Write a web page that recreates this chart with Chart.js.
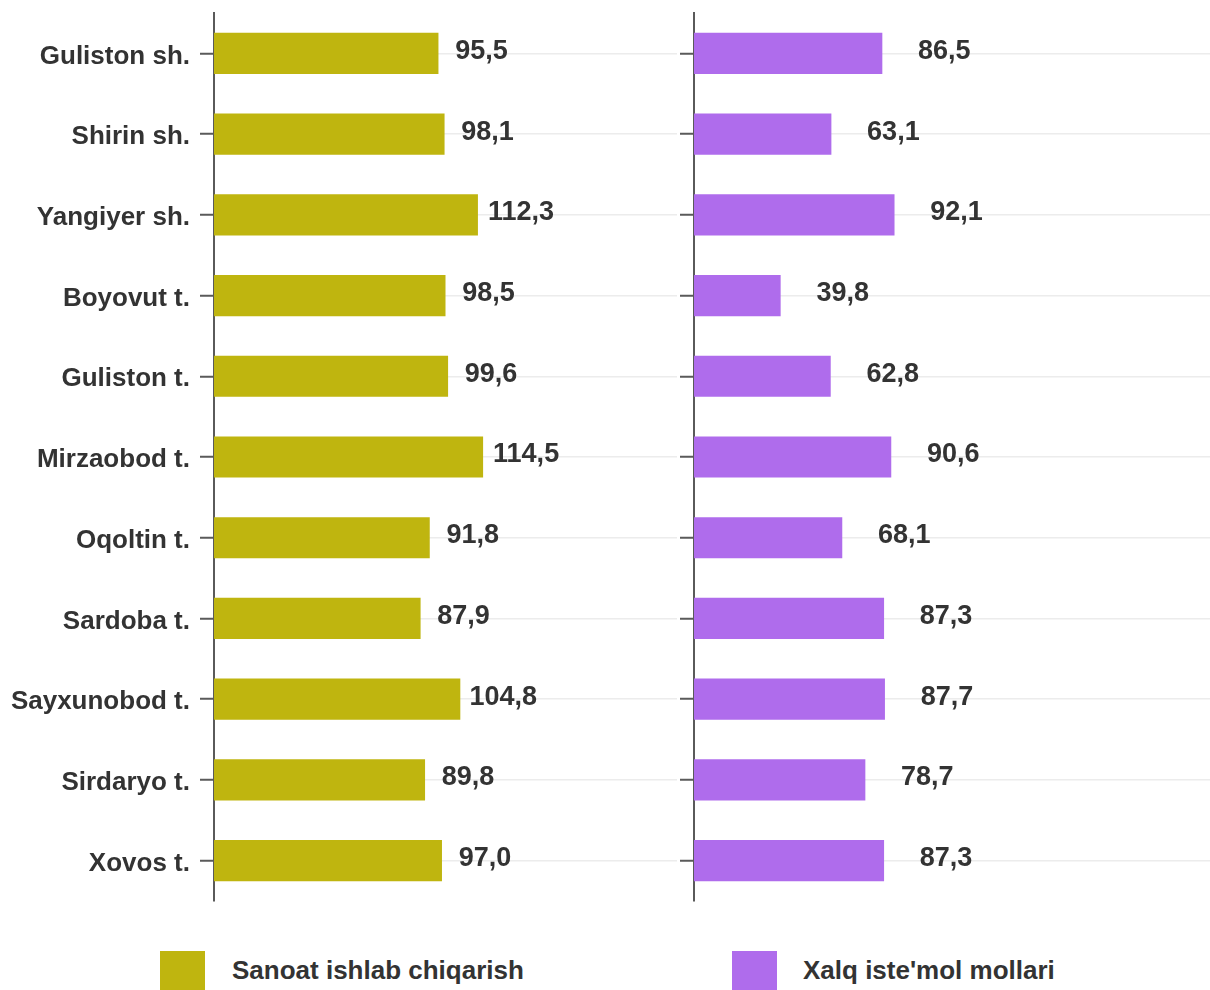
<!DOCTYPE html>
<html>
<head>
<meta charset="utf-8">
<script src="https://cdn.jsdelivr.net/npm/chart.js@4"></script>
<style>
  body{margin:0;background:#fff;font-family:"Liberation Sans",Arial,sans-serif;}
  #wrap{position:relative;width:1210px;height:990px;overflow:hidden;}
  .panel{position:absolute;top:0;height:911px;}
  .lg-box{position:absolute;top:951px;width:45px;height:45px;}
  .lg-txt{position:absolute;top:955px;line-height:30px;font-size:26px;font-weight:bold;color:#333;white-space:nowrap;}
</style>
</head>
<body>
<div id="wrap">
  <div class="panel" style="left:0;width:677px;"><canvas id="leftChart"></canvas></div>
  <div class="panel" style="left:680px;width:530px;"><canvas id="rightChart"></canvas></div>
  <div id="legend"></div>
</div>
<script>
/* ---------- Data ---------- */
const districts = ['Guliston sh.','Shirin sh.','Yangiyer sh.','Boyovut t.','Guliston t.','Mirzaobod t.',
                   'Oqoltin t.','Sardoba t.','Sayxunobod t.','Sirdaryo t.','Xovos t.'];
const sanoat = [95.5, 98.1, 112.3, 98.5, 99.6, 114.5, 91.8, 87.9, 104.8, 89.8, 97.0];
const xalq   = [86.5, 63.1, 92.1, 39.8, 62.8, 90.6, 68.1, 87.3, 87.7, 78.7, 87.3];
const seriesNames  = ['Sanoat ishlab chiqarish', "Xalq iste'mol mollari"];
const seriesColors = ['#BFB50F', '#AF6CEC'];

/* ---------- Helpers ---------- */
const FONT = '"Liberation Sans", Arial, sans-serif';
const fmt = v => v.toFixed(1).replace('.', ',');

// value labels to the right of each bar
const valueLabels = {
  id:'valueLabels',
  afterDatasetsDraw(chart, args, opts){
    const ctx = chart.ctx;
    const meta = chart.getDatasetMeta(0);
    const data = chart.data.datasets[0].data;
    ctx.save();
    ctx.font = 'bold 27px ' + FONT;
    ctx.fillStyle = '#333';
    ctx.textAlign = 'center';
    ctx.textBaseline = 'middle';
    meta.data.forEach((bar, i) => {
      ctx.fillText(fmt(data[i]), bar.x + opts.offset, bar.y - 2);
    });
    ctx.restore();
  }
};

function makeChart(id, values, color, xMax, axisWidth, showLabels, offset){
  return new Chart(document.getElementById(id), {
    type:'bar',
    data:{
      labels: districts,
      datasets:[{
        data: values,
        backgroundColor: color,
        borderWidth: 0,
        barPercentage: 0.51,
        categoryPercentage: 1
      }]
    },
    options:{
      indexAxis:'y',
      responsive:true,
      maintainAspectRatio:false,
      animation:false,
      layout:{padding:{top:13, bottom:10, left:0, right:0}},
      scales:{
        x:{display:false, min:0, max:xMax},
        y:{
          afterFit(scale){
            scale.width = axisWidth;
            // labels must not push the panel edges inward
            scale.paddingTop = 0;
            scale.paddingBottom = 0;
          },
          border:{display:true, color:'#5a5a5a', width:2},
          grid:{
            offset:false,
            color:'#ECECEC',
            lineWidth:1.5,
            drawTicks:true,
            tickLength:14,
            tickColor:'#5a5a5a',
            tickWidth:2
          },
          ticks:{
            display: showLabels,
            padding:10,
            labelOffset:3,
            color:'#333',
            font:{family:FONT, size:26, weight:'bold'}
          }
        }
      },
      plugins:{
        legend:{display:false},
        tooltip:{enabled:false},
        valueLabels:{offset}
      }
    },
    plugins:[valueLabels]
  });
}

makeChart('leftChart',  sanoat, seriesColors[0], 197, 214, true, 43);
makeChart('rightChart', xalq,   seriesColors[1], 237, 14, false, 62);

/* ---------- Legend ---------- */
const legendPos = [{box:160, txt:232}, {box:732, txt:803}];
const legendEl = document.getElementById('legend');
seriesNames.forEach((name, i) => {
  const b = document.createElement('div');
  b.className = 'lg-box';
  b.style.left = legendPos[i].box + 'px';
  b.style.background = seriesColors[i];
  const t = document.createElement('div');
  t.className = 'lg-txt';
  t.style.left = legendPos[i].txt + 'px';
  t.textContent = name;
  legendEl.appendChild(b);
  legendEl.appendChild(t);
});
</script>
</body>
</html>
